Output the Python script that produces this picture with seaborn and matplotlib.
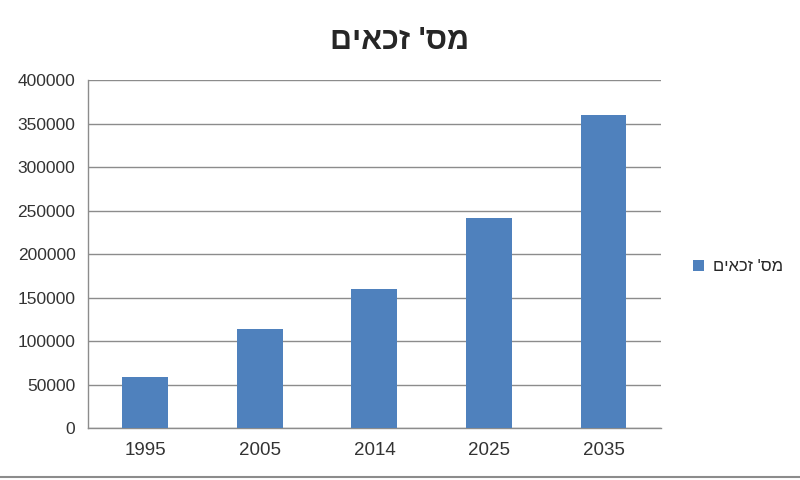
import pandas as pd
import matplotlib
matplotlib.use("Agg")
import matplotlib.pyplot as plt
import seaborn as sns
from matplotlib.lines import Line2D

sns.set_style("white")
plt.rcParams['font.family'] = ['Liberation Sans', 'DejaVu Sans']

# data
years = ["1995", "2005", "2014", "2025", "2035"]
eligible = [59000, 114000, 160000, 241000, 360000]
series_name = "מס' זכאים"
# matplotlib has no bidi support: feed the Hebrew in visual order
label_visual = series_name[::-1]

df = pd.DataFrame({"year": years, "count": eligible})

fig = plt.figure(figsize=(8, 4.8), dpi=100)
ax = fig.add_axes([0.11, 0.108, 0.716, 0.725])

sns.barplot(data=df, x="year", y="count", color="#4F81BD", saturation=1,
            width=0.4, label=label_visual, ax=ax, zorder=3, linewidth=0)

ax.set_ylim(0, 400000)
ax.set_yticks(range(0, 400001, 50000))
ax.set_xlim(-0.5, 4.5)
ax.yaxis.grid(True, color="#8c8c8c", linewidth=1)
ax.set_axisbelow(True)
ax.set_xlabel("")
ax.set_ylabel("")

for side in ["top", "right"]:
    ax.spines[side].set_visible(False)
for side in ["left", "bottom"]:
    ax.spines[side].set_color("#8c8c8c")
    ax.spines[side].set_linewidth(1)

ax.tick_params(axis="y", length=5, color="#8c8c8c", labelsize=12.5, labelcolor="#333333", pad=4)
ax.tick_params(axis="x", length=0, labelsize=13.5, labelcolor="#333333", pad=10)
ax.set_xticks([i + 0.5 for i in range(-1, 5)], minor=True)
ax.tick_params(axis="x", which="minor", length=5, color="#8c8c8c")

fig.suptitle(label_visual, x=0.5, y=0.945, fontsize=22, fontweight="bold")

ax.legend(loc="center left", bbox_to_anchor=(0.847, 0.444), bbox_transform=fig.transFigure,
          frameon=False, fontsize=12, handlelength=0.7, handleheight=0.7, handletextpad=0.5)

# thin separator line at the very bottom of the screenshot
fig.add_artist(Line2D([0, 1], [0.006, 0.006], color="#8c8c8c", linewidth=1.5,
                      transform=fig.transFigure))

fig.savefig("out.png", dpi=100)
